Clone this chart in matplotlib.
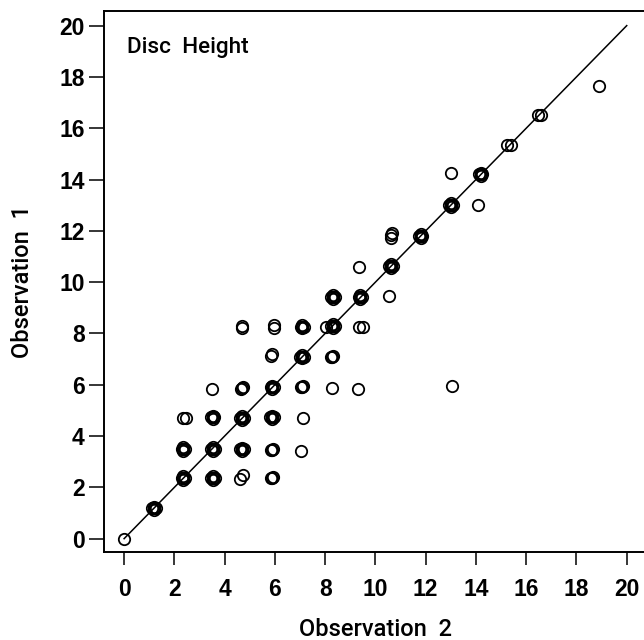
import matplotlib
matplotlib.use('Agg')
import matplotlib.pyplot as plt

# Observation 2 (x) and Observation 1 (y), one row per circle
obs2 = [
    0.00,
    1.25, 1.11, 1.18, 1.18, 1.18,
    # y ~ 2.36
    2.43, 2.29, 2.36, 2.36, 2.36,
    3.61, 3.47, 3.54, 3.54, 3.54,
    4.62, 4.75,
    5.85, 5.91, 5.88,
    # y ~ 3.54
    2.43, 2.29, 2.36, 2.36, 2.36,
    3.61, 3.47, 3.54, 3.54, 3.54,
    4.77, 4.63, 4.70, 4.70, 4.70,
    5.84, 5.92, 5.88,
    7.03,
    # y ~ 4.72
    2.34, 2.46,
    3.59, 3.45, 3.52, 3.52, 3.52,
    4.77, 4.63, 4.70, 4.70, 4.70,
    5.95, 5.81, 5.88, 5.88, 5.88,
    7.12,
    # y ~ 5.9
    3.50,
    4.66, 4.73, 4.70,
    5.97, 5.83, 5.90, 5.90, 5.90,
    7.05, 7.13, 7.09,
    8.27,
    9.31,
    13.06,
    # y ~ 7.08
    5.86, 5.90,
    7.15, 7.01, 7.08, 7.08, 7.08,
    8.25, 8.33, 8.29,
    # y ~ 8.26
    4.70, 4.70,
    5.95, 5.95,
    7.16, 7.02, 7.09, 7.09, 7.09,
    8.05,
    8.38, 8.24, 8.31, 8.31, 8.31,
    9.34, 9.50,
    # y ~ 9.44
    8.38, 8.24, 8.31, 8.31, 8.31,
    9.47, 9.33, 9.40, 9.40, 9.40,
    10.54,
    # y ~ 10.62
    9.34,
    10.69, 10.55, 10.62, 10.62, 10.62,
    # y ~ 11.8
    10.62, 10.63, 10.65,
    11.87, 11.73, 11.80, 11.80, 11.80,
    # y ~ 12.98
    13.07, 12.93, 13.00, 13.00, 13.00,
    14.10,
    # y ~ 14.16
    13.02,
    14.26, 14.12, 14.19, 14.19, 14.19,
    # y ~ 15.34
    15.25, 15.40,
    # y ~ 16.52
    16.45, 16.58,
    # y ~ 17.7
    18.88,
]

obs1 = [
    0.00,
    1.18, 1.18, 1.25, 1.11, 1.18,
    # y ~ 2.36
    2.36, 2.36, 2.43, 2.29, 2.36,
    2.36, 2.36, 2.43, 2.29, 2.36,
    2.33, 2.48,
    2.35, 2.41, 2.38,
    # y ~ 3.54
    3.50, 3.50, 3.57, 3.43, 3.50,
    3.50, 3.50, 3.57, 3.43, 3.50,
    3.48, 3.48, 3.55, 3.41, 3.48,
    3.44, 3.50, 3.47,
    3.43,
    # y ~ 4.72
    4.70, 4.70,
    4.73, 4.73, 4.80, 4.66, 4.73,
    4.71, 4.71, 4.78, 4.64, 4.71,
    4.73, 4.73, 4.80, 4.66, 4.73,
    4.70,
    # y ~ 5.9
    5.83,
    5.85, 5.91, 5.88,
    5.90, 5.90, 5.97, 5.83, 5.90,
    5.90, 5.96, 5.93,
    5.88,
    5.84,
    5.96,
    # y ~ 7.08
    7.12, 7.18,
    7.10, 7.10, 7.17, 7.03, 7.10,
    7.07, 7.13, 7.10,
    # y ~ 8.26
    8.20, 8.30,
    8.20, 8.34,
    8.27, 8.27, 8.34, 8.20, 8.27,
    8.27,
    8.28, 8.28, 8.35, 8.21, 8.28,
    8.27, 8.26,
    # y ~ 9.44
    9.41, 9.41, 9.48, 9.34, 9.41,
    9.41, 9.41, 9.48, 9.34, 9.41,
    9.46,
    # y ~ 10.62
    10.60,
    10.62, 10.62, 10.69, 10.55, 10.62,
    # y ~ 11.8
    11.74, 11.82, 11.90,
    11.80, 11.80, 11.87, 11.73, 11.80,
    # y ~ 12.98
    13.00, 13.00, 13.07, 12.93, 13.00,
    13.02,
    # y ~ 14.16
    14.24,
    14.20, 14.20, 14.27, 14.13, 14.20,
    # y ~ 15.34
    15.34, 15.34,
    # y ~ 16.52
    16.50, 16.52,
    # y ~ 17.7
    17.66,
]

line_ends = [0, 20]
ticks = list(range(0, 21, 2))

fam = ['Liberation Sans', 'DejaVu Sans']
fam_label = ['Roboto', 'Liberation Sans', 'DejaVu Sans']

fig = plt.figure(figsize=(6.44, 6.40), dpi=100)
ax = fig.add_axes([104 / 644, 88 / 640, 0.8429, 0.8457])

ax.plot(line_ends, line_ends, color='black', lw=1.1, zorder=1)
ax.plot(obs2, obs1, linestyle='none', marker='o', ms=8.2, mfc='none',
        mec='black', mew=1.3, zorder=2)

ax.set_xlim(-0.8, 20.8)
ax.set_ylim(-0.52, 20.58)
ax.set_xticks(ticks)
ax.set_yticks(ticks)

tick_font = {'family': fam, 'weight': 'bold', 'size': 16.5}
ax.set_xticklabels([str(t) for t in ticks], fontdict=tick_font)
ax.set_yticklabels([str(t) for t in ticks], fontdict=tick_font)
ax.tick_params(axis='x', length=9, width=1.1, pad=10)
ax.tick_params(axis='y', length=11, width=1.1, pad=3)

for side in ['left', 'top', 'bottom', 'right']:
    ax.spines[side].set_linewidth(1.4)

label_font = {'family': fam_label, 'weight': 'medium', 'size': 17}
ax.set_xlabel('Observation  2', fontdict=label_font, labelpad=12)
ax.set_ylabel('Observation  1', fontdict=label_font, labelpad=18)

ax.text(0.1, 18.94, 'Disc  Height',
        fontdict={'family': fam_label, 'weight': 'medium', 'size': 16.2},
        ha='left', va='baseline')

fig.savefig('out.png', dpi=100)
